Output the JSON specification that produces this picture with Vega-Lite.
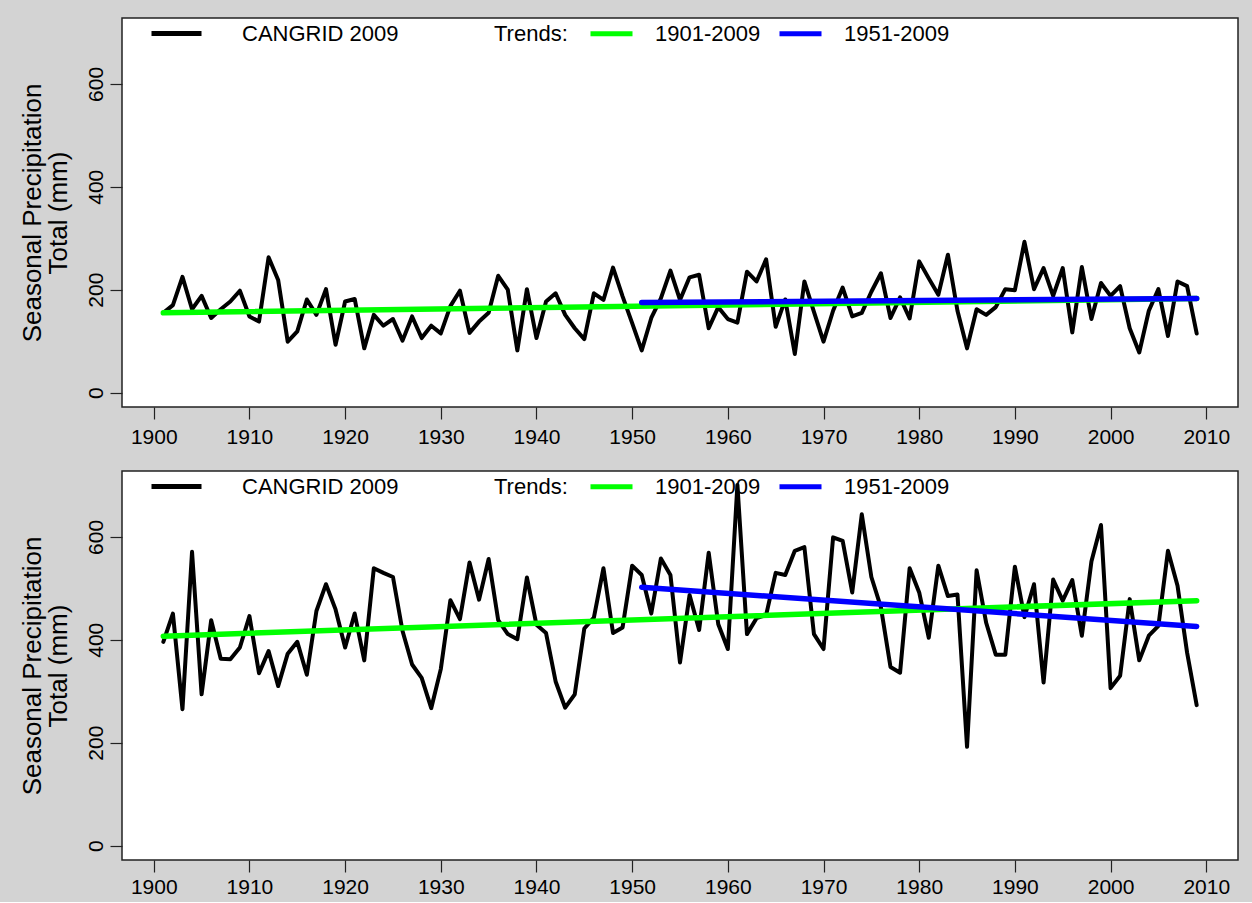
{
  "$schema": "https://vega.github.io/schema/vega-lite/v6.json",
  "background": "#d3d3d3",
  "padding": {"left": 18, "top": 5, "right": 14, "bottom": 4},
  "config": {
    "font": "Liberation Sans",
    "view": {"fill": "white", "stroke": "#222222", "strokeWidth": 1.5},
    "axis": {"labelFont": "Liberation Sans", "labelFontSize": 21, "labelColor": "black", "tickColor": "#222222", "tickSize": 12, "tickWidth": 1.2, "grid": false, "domain": false, "titleFont": "Liberation Sans", "titleFontWeight": "normal", "titleColor": "black"},
    "legend": {"labelFont": "Liberation Sans", "titleFont": "Liberation Sans", "labelColor": "black", "titleColor": "black", "labelLimit": 400, "padding": 0}
  },
  "datasets": {
    "top_series": [
      {"year":1901,"precip":155},{"year":1902,"precip":170},{"year":1903,"precip":225},{"year":1904,"precip":162},{"year":1905,"precip":188},{"year":1906,"precip":145},{"year":1907,"precip":162},{"year":1908,"precip":177},{"year":1909,"precip":198},{"year":1910,"precip":148},
      {"year":1911,"precip":138},{"year":1912,"precip":263},{"year":1913,"precip":219},{"year":1914,"precip":99},{"year":1915,"precip":119},{"year":1916,"precip":181},{"year":1917,"precip":151},{"year":1918,"precip":201},{"year":1919,"precip":93},{"year":1920,"precip":177},
      {"year":1921,"precip":182},{"year":1922,"precip":86},{"year":1923,"precip":151},{"year":1924,"precip":130},{"year":1925,"precip":143},{"year":1926,"precip":101},{"year":1927,"precip":148},{"year":1928,"precip":106},{"year":1929,"precip":130},{"year":1930,"precip":115},
      {"year":1931,"precip":168},{"year":1932,"precip":198},{"year":1933,"precip":116},{"year":1934,"precip":138},{"year":1935,"precip":155},{"year":1936,"precip":227},{"year":1937,"precip":200},{"year":1938,"precip":82},{"year":1939,"precip":201},{"year":1940,"precip":106},
      {"year":1941,"precip":177},{"year":1942,"precip":193},{"year":1943,"precip":151},{"year":1944,"precip":125},{"year":1945,"precip":104},{"year":1946,"precip":193},{"year":1947,"precip":180},{"year":1948,"precip":243},{"year":1949,"precip":187},{"year":1950,"precip":135},
      {"year":1951,"precip":82},{"year":1952,"precip":145},{"year":1953,"precip":183},{"year":1954,"precip":237},{"year":1955,"precip":180},{"year":1956,"precip":224},{"year":1957,"precip":229},{"year":1958,"precip":125},{"year":1959,"precip":166},{"year":1960,"precip":143},
      {"year":1961,"precip":136},{"year":1962,"precip":235},{"year":1963,"precip":216},{"year":1964,"precip":259},{"year":1965,"precip":128},{"year":1966,"precip":181},{"year":1967,"precip":75},{"year":1968,"precip":216},{"year":1969,"precip":157},{"year":1970,"precip":99},
      {"year":1971,"precip":159},{"year":1972,"precip":204},{"year":1973,"precip":148},{"year":1974,"precip":155},{"year":1975,"precip":196},{"year":1976,"precip":232},{"year":1977,"precip":145},{"year":1978,"precip":185},{"year":1979,"precip":144},{"year":1980,"precip":255},
      {"year":1981,"precip":222},{"year":1982,"precip":190},{"year":1983,"precip":268},{"year":1984,"precip":159},{"year":1985,"precip":86},{"year":1986,"precip":162},{"year":1987,"precip":151},{"year":1988,"precip":166},{"year":1989,"precip":201},{"year":1990,"precip":199},
      {"year":1991,"precip":293},{"year":1992,"precip":201},{"year":1993,"precip":242},{"year":1994,"precip":188},{"year":1995,"precip":242},{"year":1996,"precip":117},{"year":1997,"precip":244},{"year":1998,"precip":143},{"year":1999,"precip":213},{"year":2000,"precip":188},
      {"year":2001,"precip":207},{"year":2002,"precip":125},{"year":2003,"precip":78},{"year":2004,"precip":159},{"year":2005,"precip":201},{"year":2006,"precip":110},{"year":2007,"precip":216},{"year":2008,"precip":207},{"year":2009,"precip":115}
    ],
    "bottom_series": [
      {"year":1901,"precip":396},{"year":1902,"precip":451},{"year":1903,"precip":265},{"year":1904,"precip":571},{"year":1905,"precip":294},{"year":1906,"precip":438},{"year":1907,"precip":363},{"year":1908,"precip":362},{"year":1909,"precip":385},{"year":1910,"precip":446},
      {"year":1911,"precip":335},{"year":1912,"precip":378},{"year":1913,"precip":310},{"year":1914,"precip":373},{"year":1915,"precip":396},{"year":1916,"precip":332},{"year":1917,"precip":456},{"year":1918,"precip":508},{"year":1919,"precip":459},{"year":1920,"precip":385},
      {"year":1921,"precip":451},{"year":1922,"precip":360},{"year":1923,"precip":539},{"year":1924,"precip":530},{"year":1925,"precip":522},{"year":1926,"precip":417},{"year":1927,"precip":352},{"year":1928,"precip":326},{"year":1929,"precip":267},{"year":1930,"precip":343},
      {"year":1931,"precip":477},{"year":1932,"precip":440},{"year":1933,"precip":550},{"year":1934,"precip":478},{"year":1935,"precip":557},{"year":1936,"precip":438},{"year":1937,"precip":411},{"year":1938,"precip":401},{"year":1939,"precip":521},{"year":1940,"precip":429},
      {"year":1941,"precip":413},{"year":1942,"precip":319},{"year":1943,"precip":268},{"year":1944,"precip":294},{"year":1945,"precip":422},{"year":1946,"precip":443},{"year":1947,"precip":539},{"year":1948,"precip":413},{"year":1949,"precip":424},{"year":1950,"precip":544},
      {"year":1951,"precip":526},{"year":1952,"precip":451},{"year":1953,"precip":558},{"year":1954,"precip":526},{"year":1955,"precip":356},{"year":1956,"precip":487},{"year":1957,"precip":419},{"year":1958,"precip":569},{"year":1959,"precip":430},{"year":1960,"precip":382},
      {"year":1961,"precip":701},{"year":1962,"precip":411},{"year":1963,"precip":442},{"year":1964,"precip":448},{"year":1965,"precip":530},{"year":1966,"precip":526},{"year":1967,"precip":573},{"year":1968,"precip":580},{"year":1969,"precip":411},{"year":1970,"precip":382},
      {"year":1971,"precip":599},{"year":1972,"precip":592},{"year":1973,"precip":492},{"year":1974,"precip":644},{"year":1975,"precip":522},{"year":1976,"precip":463},{"year":1977,"precip":347},{"year":1978,"precip":336},{"year":1979,"precip":539},{"year":1980,"precip":492},
      {"year":1981,"precip":404},{"year":1982,"precip":544},{"year":1983,"precip":485},{"year":1984,"precip":488},{"year":1985,"precip":192},{"year":1986,"precip":535},{"year":1987,"precip":433},{"year":1988,"precip":371},{"year":1989,"precip":371},{"year":1990,"precip":542},
      {"year":1991,"precip":444},{"year":1992,"precip":508},{"year":1993,"precip":317},{"year":1994,"precip":517},{"year":1995,"precip":476},{"year":1996,"precip":516},{"year":1997,"precip":408},{"year":1998,"precip":552},{"year":1999,"precip":623},{"year":2000,"precip":306},
      {"year":2001,"precip":330},{"year":2002,"precip":479},{"year":2003,"precip":360},{"year":2004,"precip":408},{"year":2005,"precip":427},{"year":2006,"precip":573},{"year":2007,"precip":505},{"year":2008,"precip":375},{"year":2009,"precip":273}
    ],
    "top_trends": [
      {"trend":"1901-2009","year":1901,"precip":155},{"trend":"1901-2009","year":2009,"precip":183},
      {"trend":"1951-2009","year":1951,"precip":175},{"trend":"1951-2009","year":2009,"precip":183}
    ],
    "bottom_trends": [
      {"trend":"1901-2009","year":1901,"precip":407},{"trend":"1901-2009","year":2009,"precip":476},
      {"trend":"1951-2009","year":1951,"precip":502},{"trend":"1951-2009","year":2009,"precip":426}
    ]
  },
  "spacing": 64,
  "bounds": "flush",
  "resolve": {"scale": {"color": "independent"}},
  "vconcat": [
    {
      "width": 1116, "height": 389,
      "resolve": {"scale": {"color": "independent"}},
      "layer": [
        {
          "data": {"name": "top_series"},
          "mark": {"type": "line", "strokeWidth": 4, "strokeJoin": "round", "strokeCap": "round"},
          "encoding": {
            "x": {"field": "year", "type": "quantitative", "scale": {"domain": [1896.68, 2013.32], "nice": false, "zero": false}, "axis": {"values": [1900,1910,1920,1930,1940,1950,1960,1970,1980,1990,2000,2010], "format": "d", "title": null, "labelPadding": 7, "labelFlush": false, "labelOverlap": false}},
            "y": {"field": "precip", "type": "quantitative", "scale": {"domain": [-28, 728], "nice": false, "zero": false}, "axis": {"values": [0,200,400,600], "title": ["Seasonal Precipitation", "Total (mm)"], "labelAngle": -90, "labelAlign": "center", "labelBaseline": "alphabetic", "labelPadding": 8, "titleFontSize": 26, "titlePadding": 14, "titleLineHeight": 26}},
            "color": {"datum": "CANGRID 2009", "scale": {"domain": ["CANGRID 2009"], "range": ["black"]}, "legend": {"orient": "none", "legendX": 27, "legendY": -12, "title": null, "symbolType": "stroke", "symbolSize": 2500, "symbolStrokeWidth": 5, "labelFontSize": 22, "labelOffset": 38}}
          }
        },
        {
          "data": {"name": "top_trends"},
          "mark": {"type": "line", "strokeWidth": 5.5, "strokeCap": "round"},
          "encoding": {
            "x": {"field": "year", "type": "quantitative"},
            "y": {"field": "precip", "type": "quantitative"},
            "color": {"field": "trend", "type": "nominal", "scale": {"domain": ["1901-2009", "1951-2009"], "range": ["#00ff00", "#0000ff"]}, "legend": {"orient": "none", "legendX": 372, "legendY": -8, "direction": "horizontal", "title": "Trends:", "titleOrient": "left", "titleFontSize": 22, "titleFontWeight": "normal", "titlePadding": 20, "titleAnchor": "middle", "titleBaseline": "line-top", "titleLineHeight": 15, "symbolType": "stroke", "symbolSize": 1764, "symbolStrokeWidth": 5, "labelFontSize": 22, "labelOffset": 20, "columnPadding": 8}}
          }
        }
      ]
    },
    {
      "width": 1116, "height": 389,
      "resolve": {"scale": {"color": "independent"}},
      "layer": [
        {
          "data": {"name": "bottom_series"},
          "mark": {"type": "line", "strokeWidth": 4, "strokeJoin": "round", "strokeCap": "round"},
          "encoding": {
            "x": {"field": "year", "type": "quantitative", "scale": {"domain": [1896.68, 2013.32], "nice": false, "zero": false}, "axis": {"values": [1900,1910,1920,1930,1940,1950,1960,1970,1980,1990,2000,2010], "format": "d", "title": null, "labelPadding": 4, "labelFlush": false, "labelOverlap": false}},
            "y": {"field": "precip", "type": "quantitative", "scale": {"domain": [-28, 728], "nice": false, "zero": false}, "axis": {"values": [0,200,400,600], "title": ["Seasonal Precipitation", "Total (mm)"], "labelAngle": -90, "labelAlign": "center", "labelBaseline": "alphabetic", "labelPadding": 8, "titleFontSize": 26, "titlePadding": 14, "titleLineHeight": 26}},
            "color": {"datum": "CANGRID 2009", "scale": {"domain": ["CANGRID 2009"], "range": ["black"]}, "legend": {"orient": "none", "legendX": 27, "legendY": -12, "title": null, "symbolType": "stroke", "symbolSize": 2500, "symbolStrokeWidth": 5, "labelFontSize": 22, "labelOffset": 38}}
          }
        },
        {
          "data": {"name": "bottom_trends"},
          "mark": {"type": "line", "strokeWidth": 5.5, "strokeCap": "round"},
          "encoding": {
            "x": {"field": "year", "type": "quantitative"},
            "y": {"field": "precip", "type": "quantitative"},
            "color": {"field": "trend", "type": "nominal", "scale": {"domain": ["1901-2009", "1951-2009"], "range": ["#00ff00", "#0000ff"]}, "legend": {"orient": "none", "legendX": 372, "legendY": -8, "direction": "horizontal", "title": "Trends:", "titleOrient": "left", "titleFontSize": 22, "titleFontWeight": "normal", "titlePadding": 20, "titleAnchor": "middle", "titleBaseline": "line-top", "titleLineHeight": 15, "symbolType": "stroke", "symbolSize": 1764, "symbolStrokeWidth": 5, "labelFontSize": 22, "labelOffset": 20, "columnPadding": 8}}
          }
        }
      ]
    }
  ]
}
